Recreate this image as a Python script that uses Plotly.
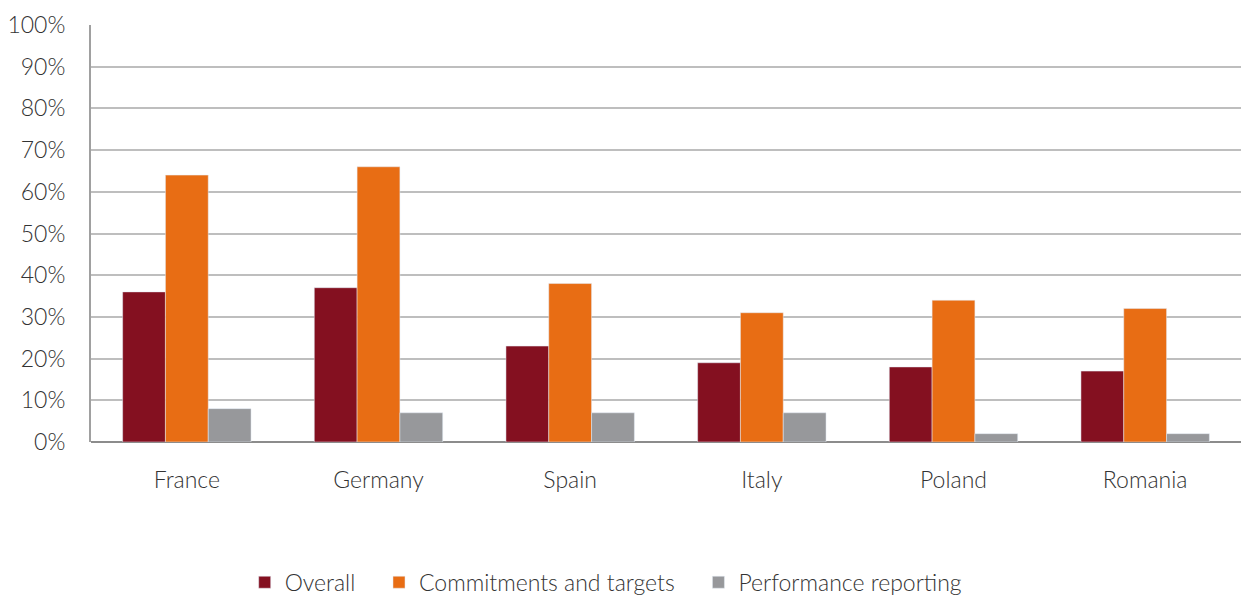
import plotly.graph_objects as go

countries = ['France', 'Germany', 'Spain', 'Italy', 'Poland', 'Romania']
overall = [36, 37, 23, 19, 18, 17]
commitments = [64, 66, 38, 31, 34, 32]
reporting = [8, 7, 7, 7, 2, 2]
tick_vals = [0, 10, 20, 30, 40, 50, 60, 70, 80, 90, 100]

font = dict(family='Lato, Open Sans, sans-serif', size=23, color='#333333', weight=300)

fig = go.Figure()
fig.add_trace(go.Bar(x=countries, y=overall, name='Overall\u00a0\u00a0\u00a0', marker_color='#841020'))
fig.add_trace(go.Bar(x=countries, y=commitments, name='Commitments and targets\u00a0\u00a0\u00a0', marker_color='#E86D14'))
fig.add_trace(go.Bar(x=countries, y=reporting, name='Performance reporting', marker_color='#97989B'))

# page body has an 8px margin, so the figure is sized to fit inside the window
fig.update_layout(
    width=1233, height=589,
    margin=dict(l=83, r=0, t=17, b=155),
    barmode='group', bargap=0.33, bargroupgap=0,
    plot_bgcolor='white', paper_bgcolor='white',
    font=font,
    legend=dict(orientation='h', x=0.448, xanchor='center',
                yref='container', y=0.025, yanchor='middle',
                font=font, itemwidth=30, traceorder='normal'),
)
fig.update_xaxes(showgrid=False, ticks='', ticklabelstandoff=22, tickfont=font,
                 showline=False, automargin=False)
fig.update_yaxes(range=[0, 100], tickvals=tick_vals, ticktext=[f'{v}%' for v in tick_vals],
                 showgrid=True, gridcolor='#BEBEBE', gridwidth=1.5,
                 zeroline=True, zerolinecolor='#8C8C8C', zerolinewidth=2,
                 showline=True, linecolor='#A0A0A0', linewidth=2,
                 ticks='', ticklabelstandoff=19, tickfont=font, automargin=False)

fig.write_html('out.html')
